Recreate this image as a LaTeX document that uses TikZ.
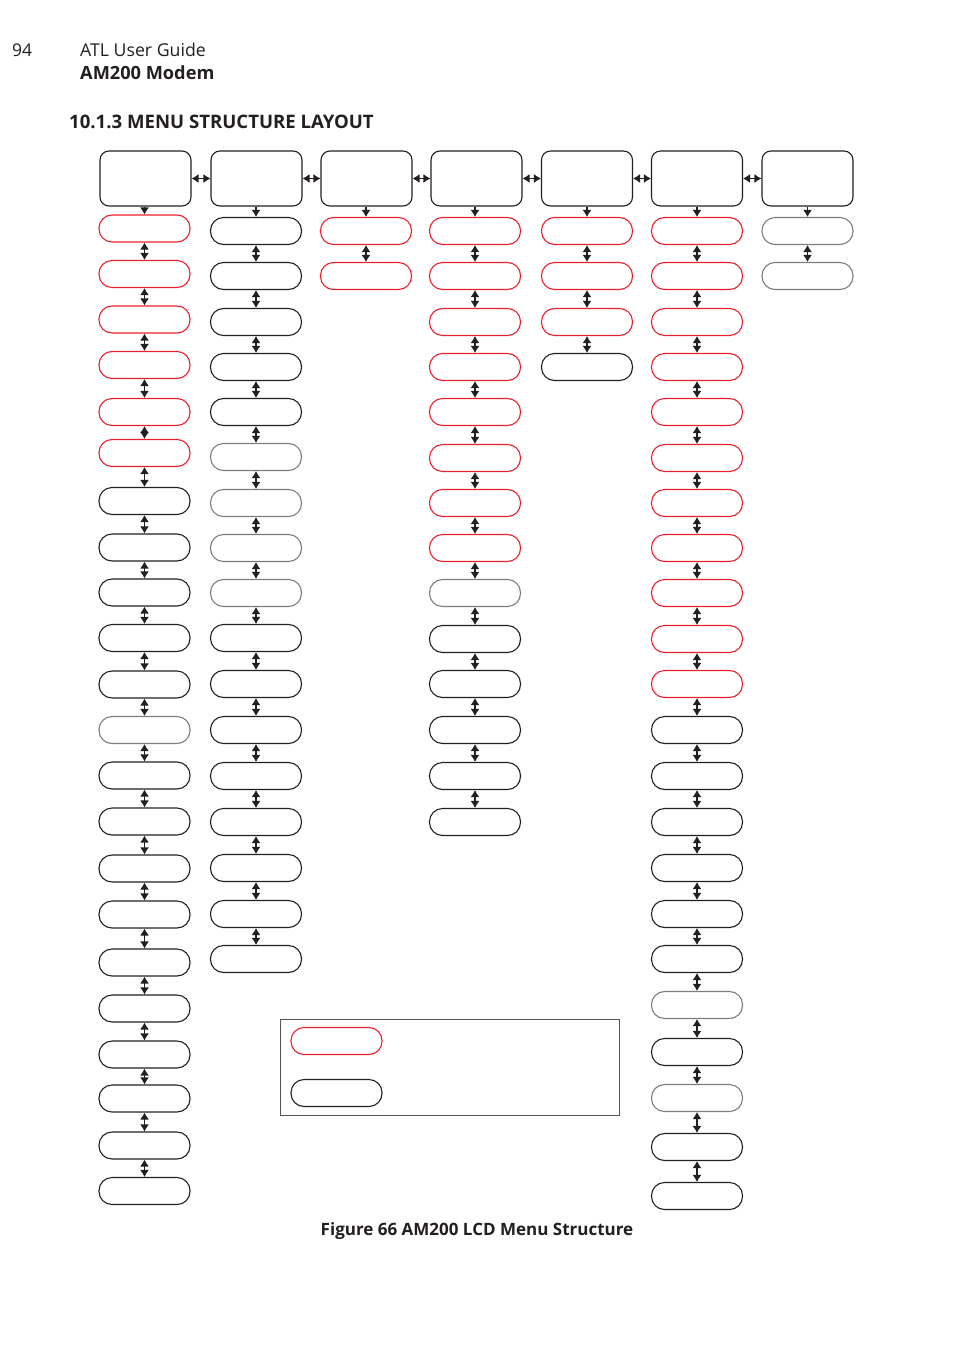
\documentclass[tikz,border=0pt]{standalone}
\usepackage{fontspec}
\setmainfont{Open Sans}
\usetikzlibrary{arrows.meta}
\definecolor{pred}{RGB}{236,32,44}
\definecolor{pblk}{RGB}{35,31,32}
\definecolor{pgry}{RGB}{125,125,125}
\definecolor{frame}{RGB}{85,85,85}
\tikzset{
  topbox/.style={draw=pblk,line width=1.1pt,rounded corners=9pt,minimum width=91pt,minimum height=55pt,inner sep=0pt},
  pill/.style={draw=#1,line width=1.1pt,rounded corners=13pt,minimum width=91pt,minimum height=27pt,inner sep=0pt},
  dbl/.style={line width=1.2pt,draw=pblk,{Latex[length=7pt,width=9pt]}-{Latex[length=7pt,width=9pt]}},
  sgl/.style={line width=1.2pt,draw=pblk,-{Latex[length=7pt,width=9pt]}},
  txt/.style={inner sep=0pt,anchor=base west,text=pblk}
}
\begin{document}
\begin{tikzpicture}[x=1pt,y=-1pt]
\useasboundingbox (0,0) rectangle (954,1351);
% header
\node[txt,font=\fontsize{17.5}{20}\selectfont] (pg) at (12,57) {94};
\node[txt,font=\fontsize{17.7}{20}\selectfont] (hd1) at (80,57) {ATL User Guide};
\node[txt,font=\fontsize{18.2}{20}\selectfont\bfseries] (hd2) at (80,80) {AM200 Modem};
\node[txt,font=\fontsize{18.6}{20}\selectfont\bfseries] (sec) at (69,129) {10.1.3 MENU STRUCTURE LAYOUT};
% top boxes
\foreach \x [count=\i] in {145.5,256.5,366.5,476.5,587,697,807.5}
  \node[topbox] (t\i) at (\x,178.5) {};
\foreach \i in {1,...,6}{
  \pgfmathtruncatemacro\nx{\i+1}
  \draw[dbl] (t\i.east) -- (t\nx.west);
}
% column 1
\foreach \y/\c [count=\i] in {228.5/pred,274/pred,319.5/pred,365/pred,412/pred,453/pred,501/pblk,547.5/pblk,592.5/pblk,638/pblk,684.5/pblk,730/pgry,775.5/pblk,821.5/pblk,868.5/pblk,914.5/pblk,962.5/pblk,1008.5/pblk,1054.5/pblk,1098.5/pblk,1145.5/pblk,1191/pblk}
  \node[pill=\c] (ca\i) at (144.5,\y) {};
% column 2
\foreach \y/\c [count=\i] in {231/pblk,276/pblk,322/pblk,367/pblk,412/pblk,457/pgry,503/pgry,548/pgry,593/pgry,638/pblk,684/pblk,730/pblk,776/pblk,822/pblk,868/pblk,914/pblk,959/pblk}
  \node[pill=\c] (cb\i) at (256,\y) {};
% column 3
\foreach \y/\c [count=\i] in {231/pred,276/pred}
  \node[pill=\c] (cc\i) at (366,\y) {};
% column 4
\foreach \y/\c [count=\i] in {231/pred,276/pred,322/pred,367/pred,412/pred,458/pred,503/pred,548/pred,593/pgry,639/pblk,684/pblk,730/pblk,776/pblk,822/pblk}
  \node[pill=\c] (cd\i) at (475,\y) {};
% column 5
\foreach \y/\c [count=\i] in {231/pred,276/pred,322/pred,367/pblk}
  \node[pill=\c] (ce\i) at (587,\y) {};
% column 6
\foreach \y/\c [count=\i] in {231/pred,276/pred,322/pred,367/pred,412/pred,458/pred,503/pred,548/pred,593/pred,639/pred,684/pred,730/pblk,776/pblk,822/pblk,868/pblk,914/pblk,959/pblk,1005/pgry,1052/pblk,1098/pgry,1147/pblk,1196/pblk}
  \node[pill=\c] (cf\i) at (697,\y) {};
% column 7
\foreach \y/\c [count=\i] in {231/pgry,276/pgry}
  \node[pill=\c] (cg\i) at (807.5,\y) {};
% down arrows from top boxes
\foreach \k/\n in {a/1,b/2,c/3,d/4,e/5,f/6,g/7}
  \draw[sgl] (c\k1.north |- t\n.south) -- (c\k1.north);
% vertical double arrows
\foreach \k/\m in {a/21,b/16,c/1,d/13,e/3,f/21,g/1}{
  \foreach \i in {1,...,\m}{
    \pgfmathtruncatemacro\nx{\i+1}
    \draw[dbl] (c\k\i.south) -- (c\k\nx.north);
  }
}
% legend
\node[draw=frame,line width=1pt,minimum width=339pt,minimum height=96pt,inner sep=0pt] (leg) at (449.5,1067) {};
\node[pill=pred] (lr) at (336.5,1041) {};
\node[pill=pblk] (lb) at (336.5,1093) {};
% caption
\node[inner sep=0pt,anchor=base,text=pblk,font=\fontsize{17}{20}\selectfont\bfseries] (cap) at (477,1235) {Figure 66 AM200 LCD Menu Structure};
\end{tikzpicture}
\end{document}
